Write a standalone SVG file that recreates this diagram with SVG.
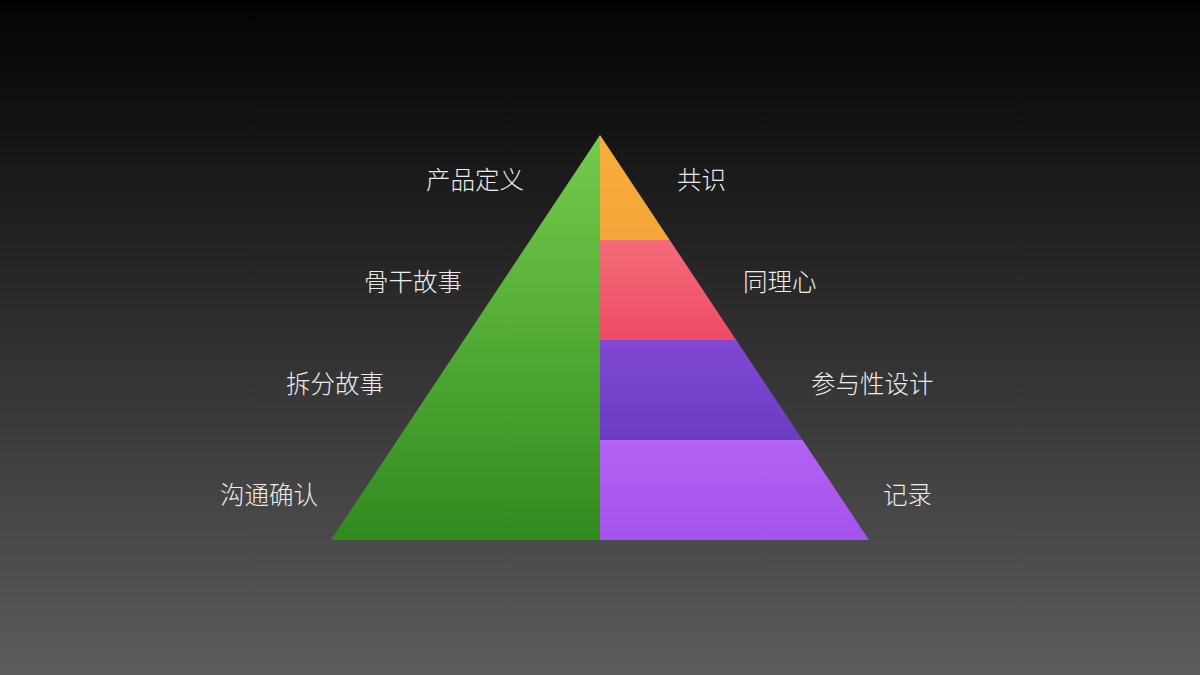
<svg xmlns="http://www.w3.org/2000/svg" width="1200" height="675" viewBox="0 0 1200 675">
  <defs>
    <linearGradient id="bg" x1="0" y1="0" x2="0" y2="1">
      <stop offset="0" stop-color="#030303"/>
      <stop offset="1" stop-color="#5c5c5c"/>
    </linearGradient>
    <linearGradient id="gGreen" gradientUnits="userSpaceOnUse" x1="0" y1="135" x2="0" y2="540">
      <stop offset="0" stop-color="#74cc4c"/>
      <stop offset="1" stop-color="#318a1e"/>
    </linearGradient>
    <linearGradient id="gOrange" gradientUnits="userSpaceOnUse" x1="0" y1="135" x2="0" y2="240">
      <stop offset="0" stop-color="#f9ac3e"/>
      <stop offset="1" stop-color="#f4a638"/>
    </linearGradient>
    <linearGradient id="gPink" gradientUnits="userSpaceOnUse" x1="0" y1="240" x2="0" y2="340">
      <stop offset="0" stop-color="#f46c79"/>
      <stop offset="1" stop-color="#ee4a64"/>
    </linearGradient>
    <linearGradient id="gPurple" gradientUnits="userSpaceOnUse" x1="0" y1="340" x2="0" y2="440">
      <stop offset="0" stop-color="#8048d4"/>
      <stop offset="1" stop-color="#6c3cc2"/>
    </linearGradient>
    <linearGradient id="gViolet" gradientUnits="userSpaceOnUse" x1="0" y1="440" x2="0" y2="540">
      <stop offset="0" stop-color="#b363f2"/>
      <stop offset="1" stop-color="#a352ec"/>
    </linearGradient>
  </defs>
  <style>
    .lbl { font-family: "Noto Sans CJK SC", "Noto Sans", sans-serif; font-size: 24.5px; fill: #ececec; font-weight: 300; }
  </style>
  <rect x="0" y="0" width="1200" height="675" fill="url(#bg)"/>

  <g id="pyramid-left">
    <polygon points="600,135 600,540 331,540" fill="url(#gGreen)"/>
  </g>
  <g id="band-consensus">
    <polygon points="600,135 669.7,240 600,240" fill="url(#gOrange)"/>
  </g>
  <g id="band-empathy">
    <polygon points="600,240 669.7,240 736.2,340 600,340" fill="url(#gPink)"/>
  </g>
  <g id="band-participatory">
    <polygon points="600,340 736.2,340 802.6,440 600,440" fill="url(#gPurple)"/>
  </g>
  <g id="band-record">
    <polygon points="600,440 802.6,440 869,540 600,540" fill="url(#gViolet)"/>
  </g>

  <g id="connectors"></g>

  <g id="label-product-definition"><text class="lbl" x="524" y="189" text-anchor="end">产品定义</text></g>
  <g id="label-backbone"><text class="lbl" x="462" y="291" text-anchor="end">骨干故事</text></g>
  <g id="label-split"><text class="lbl" x="384" y="393" text-anchor="end">拆分故事</text></g>
  <g id="label-confirm"><text class="lbl" x="318" y="504" text-anchor="end">沟通确认</text></g>

  <g id="label-consensus"><text class="lbl" x="677" y="189">共识</text></g>
  <g id="label-empathy"><text class="lbl" x="743" y="291">同理心</text></g>
  <g id="label-participatory"><text class="lbl" x="811" y="393">参与性设计</text></g>
  <g id="label-record"><text class="lbl" x="883" y="504">记录</text></g>
</svg>
